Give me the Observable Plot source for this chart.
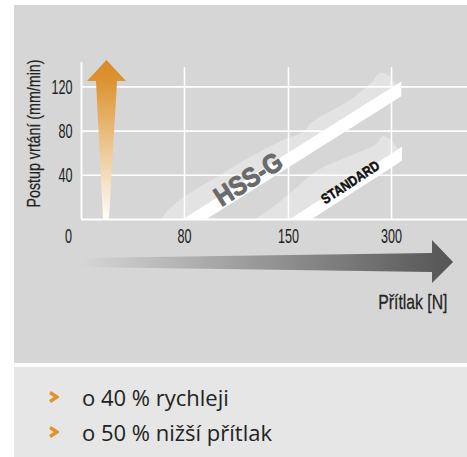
<!DOCTYPE html>
<html><head><meta charset="utf-8">
<script src="https://cdn.jsdelivr.net/npm/d3@7"></script>
<script src="https://cdn.jsdelivr.net/npm/@observablehq/plot@0.6"></script>
<style>
body{margin:0;background:#fff;}
#wrap{position:relative;width:467px;height:457px;overflow:hidden;}
#panel{position:absolute;left:14px;top:5px;width:453px;height:358px;background:#d6d6d6;}
#chart{position:absolute;left:0;top:0;}
#notes{position:absolute;left:14px;top:367px;width:453px;height:90px;background:#e6e6e6;font-family:"Open Sans","Noto Sans",sans-serif;font-size:22px;color:#222;}
.row{position:absolute;left:0;height:30px;line-height:30px;width:453px;}
.b{position:absolute;left:34px;top:9px;width:11px;height:12px;}
.t{position:absolute;left:68px;white-space:nowrap;}
</style></head><body>
<div id="wrap"><div id="panel"></div><div id="chart"></div><div id="notes"></div></div>
<script>
// ---- axis definitions ----
const xKnots = [0, 80, 150, 300];          // Přítlak [N] tick positions (non-uniform axis)
const xTicks = [80, 150, 300];
const xTickLabels = ["80", "150", "300"];
const yTicks = [40, 80, 120];
const yTickLabels = ["40", "80", "120"];
const xAxisEnd = 411;     // extent of the x axis / grid to the right
const yAxisEnd = 142;     // extent of the y axis
const gridTop = 137.5;    // top of vertical grid lines

// ---- series: HSS-G band (force N, rate low / high) ----
const hssgForce = [69, 315];
const hssgLow = [-21, 111];
const hssgHigh = [-7.5, 124.5];
// ---- series: STANDARD band ----
const stdForce = [144.6, 316];
const stdLow = [-18.6, 52.7];
const stdHigh = [-5.9, 65.3];

// ---- scatter "clouds" behind the bands ----
const hssgCloudForce = [59.8, 67.6, 80.7, 102.2, 124.4, 146.6, 171.8, 182.0, 196.6, 240.3, 272.3, 283.9, 295.6, 307.2];
const hssgCloudTop   = [-4.5, 8.1, 20.8, 38.0, 56.1, 71.5, 78.7, 86.0, 92.3, 107.7, 124.0, 132.1, 130.3, 122.2];
const hssgCloudBase  = [-19, -19, -10, 12.7, 31.7, 50.7, 61.5, 66.1, 71.5, 88.7, 101.4, 105.9, 110.4, 114.9];
const stdCloudForce = [124.4, 129.8, 139.9, 152.9, 174.8, 185.0, 196.6, 218.4, 250.5, 278.2, 288.3, 298.5, 310.2];
const stdCloudTop   = [-4.5, 1.8, 10.9, 23.5, 35.3, 40.7, 45.2, 51.6, 59.7, 67.9, 75.1, 72.4, 63.3];
const stdCloudBase  = [-19, -19, -16.3, -6.3, 2.7, 6.3, 10.9, 19.9, 32.6, 43.4, 47.1, 51.6, 56.1];

// ---- arrows ----
const upArrowRate  = [0, 124.9, 124.95, 143.9];
const upArrowLeft  = [17.1, 11.65, 4.66, 19.8];
const upArrowRight = [21.7, 28.0, 34.95, 19.8];
const rightArrowForce  = [0, 359.7, 359.75, 390.3];
const rightArrowTop    = [-35.3, -30.8, -19, -38.9];
const rightArrowBottom = [-43.4, -48, -57.9, -38.9];

// ---- texts ----
const yTitle = "Postup vrtání (mm/min)";
const xTitle = "Přítlak [N]";
const notes = ["o 40 % rychleji", "o 50 % nižší přítlak"];

const zip = (xs, a, b) => xs.map((x, i) => ({x, a: a[i], b: b[i]}));
// font families (distinct strings so that each group can be condensed differently)
const F_TICK = '"Liberation Sans", sans-serif';
const F_TITLE = '"Liberation Sans", Arial, sans-serif';
const F_HSSG = '"Liberation Sans", Helvetica, sans-serif';
const F_STD = '"Liberation Sans", Arimo, sans-serif';
const condense = {[F_TICK]: 0.6, [F_TITLE]: 0.75, [F_HSSG]: 0.88, [F_STD]: 0.86};

const plot = Plot.plot({
  width: 467, height: 363,
  marginLeft: 81, marginRight: 0, marginTop: 40, marginBottom: 144,
  style: {background: "transparent", overflow: "visible"},
  x: {type: "linear", domain: xKnots, range: [81, 184, 288, 391], axis: null},
  y: {type: "linear", domain: [0, 120], range: [219, 86.4], axis: null},
  marks: [
    Plot.ruleY(yTicks, {x1: 0, x2: xAxisEnd, stroke: "white", strokeWidth: 1.6}),
    Plot.ruleX(xTicks, {y1: 0, y2: gridTop, stroke: "white", strokeWidth: 1.6}),
    Plot.areaY(zip(hssgCloudForce, hssgCloudBase, hssgCloudTop), {x: "x", y1: "a", y2: "b", fill: "white", fillOpacity: 0.32, curve: "catmull-rom", clip: true}),
    Plot.areaY(zip(stdCloudForce, stdCloudBase, stdCloudTop), {x: "x", y1: "a", y2: "b", fill: "white", fillOpacity: 0.32, curve: "catmull-rom", clip: true}),
    Plot.areaY(zip(hssgForce, hssgLow, hssgHigh), {x: "x", y1: "a", y2: "b", fill: "white", clip: true}),
    Plot.areaY(zip(stdForce, stdLow, stdHigh), {x: "x", y1: "a", y2: "b", fill: "white", clip: true}),
    Plot.text(["HSS-G"], {x: 123.1, y: 36.2, text: d => d, rotate: -32.5, fontFamily: F_HSSG, fontWeight: "bold", fontSize: 27, fill: "#6a6a6a", stroke: "#6a6a6a", strokeWidth: 1}),
    Plot.text(["STANDARD"], {x: 240.3, y: 33.5, text: d => d, rotate: -33, fontFamily: F_STD, fontWeight: "bold", fontSize: 14, fill: "#111", stroke: "#111", strokeWidth: 0.5}),
    Plot.ruleX([0], {y1: 0, y2: yAxisEnd, stroke: "white", strokeWidth: 2}),
    Plot.ruleY([0], {x1: 0, x2: xAxisEnd, stroke: "white", strokeWidth: 2}),
    Plot.areaX(upArrowRate.map((r, i) => ({r, l: upArrowLeft[i], h: upArrowRight[i]})), {y: "r", x1: "l", x2: "h", fill: "url(#gOrange)"}),
    Plot.areaY(zip(rightArrowForce, rightArrowBottom, rightArrowTop), {x: "x", y1: "a", y2: "b", fill: "url(#gGray)"}),
    Plot.text(yTicks, {x: 0, y: d => d, text: (d, i) => yTickLabels[i], textAnchor: "end", dx: -9, fontFamily: F_TICK, fontSize: 21, fill: "#222"}),
    Plot.text(xTicks, {x: d => d, y: 0, text: (d, i) => xTickLabels[i], dy: 17, fontFamily: F_TICK, fontSize: 21, fill: "#222"}),
    Plot.text([0], {x: 0, y: 0, text: d => String(d), dx: -13, dy: 17, fontFamily: F_TICK, fontSize: 21, fill: "#222"}),
    Plot.text([yTitle], {x: -37.3, y: 77.8, text: d => d, rotate: -90, fontFamily: F_TITLE, fontSize: 19, fill: "#222", stroke: "#222", strokeWidth: 0.25}),
    Plot.text([xTitle], {x: 381.5, y: -75, text: d => d, textAnchor: "end", fontFamily: F_TITLE, fontSize: 21, fill: "#222", stroke: "#222", strokeWidth: 0.25})
  ]
});

const svg = d3.select(plot);
const defs = svg.insert("defs", ":first-child");
const go = defs.append("linearGradient").attr("id", "gOrange").attr("x1", 0).attr("y1", 0).attr("x2", 0).attr("y2", 1);
go.append("stop").attr("offset", 0).attr("stop-color", "#d98a2b");
go.append("stop").attr("offset", 0.12).attr("stop-color", "#dc922f");
go.append("stop").attr("offset", 1).attr("stop-color", "#fffdf9");
const gg = defs.append("linearGradient").attr("id", "gGray").attr("x1", 0).attr("y1", 0).attr("x2", 1).attr("y2", 0);
gg.append("stop").attr("offset", 0).attr("stop-color", "#d6d6d6");
gg.append("stop").attr("offset", 1).attr("stop-color", "#545454");

svg.selectAll("g").each(function() {
  const s = condense[this.getAttribute("font-family")];
  if (!s) return;
  d3.select(this).selectAll("text").each(function() {
    const x = +this.getAttribute("x") || 0, y = +this.getAttribute("y") || 0;
    const t = this.getAttribute("transform") || "";
    this.setAttribute("transform", `${t} translate(${x},${y}) scale(${s},1) translate(${-x},${-y})`);
  });
});

document.getElementById("chart").appendChild(plot);

const notesDiv = document.getElementById("notes");
notes.forEach((n, i) => {
  const row = document.createElement("div");
  row.className = "row";
  row.style.top = (15 + i * 35) + "px";
  row.innerHTML = `<svg class="b" viewBox="0 0 11 12"><polyline points="2,1.5 9,6 2,10.5" fill="none" stroke="#e0922f" stroke-width="3.4" stroke-linejoin="miter"/></svg><span class="t"></span>`;
  row.querySelector(".t").textContent = n;
  notesDiv.appendChild(row);
});
</script>
</body></html>
